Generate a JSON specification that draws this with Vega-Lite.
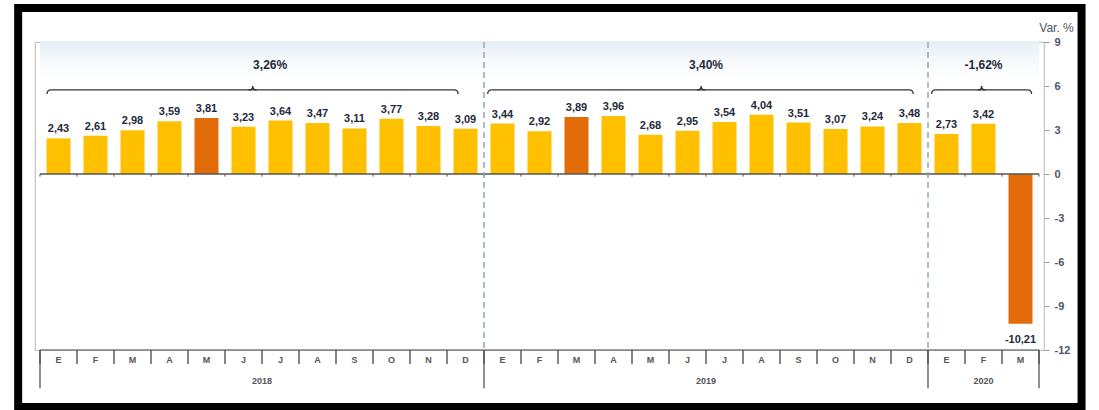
{
  "$schema": "https://vega.github.io/schema/vega-lite/v6.json",
  "width": 1009,
  "height": 308,
  "autosize": {"type": "none"},
  "padding": {"left": 35, "top": 42, "right": 55, "bottom": 60},
  "background": "#ffffff",
  "config": {
    "locale": {"number": {"decimal": ",", "thousands": ".", "grouping": [3], "currency": ["", " €"], "minus": "-"}},
    "view": {"stroke": "#c4c4c4", "strokeWidth": 1.2}
  },
  "resolve": {"axis": {"y": "independent", "x": "independent"}},
  "datasets": {
    "months": [
      {"i": 0, "m": "E", "yr": 2018, "v": 2.43, "h": "no"},
      {"i": 1, "m": "F", "yr": 2018, "v": 2.61, "h": "no"},
      {"i": 2, "m": "M", "yr": 2018, "v": 2.98, "h": "no"},
      {"i": 3, "m": "A", "yr": 2018, "v": 3.59, "h": "no"},
      {"i": 4, "m": "M", "yr": 2018, "v": 3.81, "h": "yes"},
      {"i": 5, "m": "J", "yr": 2018, "v": 3.23, "h": "no"},
      {"i": 6, "m": "J", "yr": 2018, "v": 3.64, "h": "no"},
      {"i": 7, "m": "A", "yr": 2018, "v": 3.47, "h": "no"},
      {"i": 8, "m": "S", "yr": 2018, "v": 3.11, "h": "no"},
      {"i": 9, "m": "O", "yr": 2018, "v": 3.77, "h": "no"},
      {"i": 10, "m": "N", "yr": 2018, "v": 3.28, "h": "no"},
      {"i": 11, "m": "D", "yr": 2018, "v": 3.09, "h": "no"},
      {"i": 12, "m": "E", "yr": 2019, "v": 3.44, "h": "no"},
      {"i": 13, "m": "F", "yr": 2019, "v": 2.92, "h": "no"},
      {"i": 14, "m": "M", "yr": 2019, "v": 3.89, "h": "yes"},
      {"i": 15, "m": "A", "yr": 2019, "v": 3.96, "h": "no"},
      {"i": 16, "m": "M", "yr": 2019, "v": 2.68, "h": "no"},
      {"i": 17, "m": "J", "yr": 2019, "v": 2.95, "h": "no"},
      {"i": 18, "m": "J", "yr": 2019, "v": 3.54, "h": "no"},
      {"i": 19, "m": "A", "yr": 2019, "v": 4.04, "h": "no"},
      {"i": 20, "m": "S", "yr": 2019, "v": 3.51, "h": "no"},
      {"i": 21, "m": "O", "yr": 2019, "v": 3.07, "h": "no"},
      {"i": 22, "m": "N", "yr": 2019, "v": 3.24, "h": "no"},
      {"i": 23, "m": "D", "yr": 2019, "v": 3.48, "h": "no"},
      {"i": 24, "m": "E", "yr": 2020, "v": 2.73, "h": "no"},
      {"i": 25, "m": "F", "yr": 2020, "v": 3.42, "h": "no"},
      {"i": 26, "m": "M", "yr": 2020, "v": -10.21, "h": "yes"}
    ],
    "bounds": [
      {"b": -0.5}, {"b": 0.5}, {"b": 1.5}, {"b": 2.5}, {"b": 3.5}, {"b": 4.5}, {"b": 5.5},
      {"b": 6.5}, {"b": 7.5}, {"b": 8.5}, {"b": 9.5}, {"b": 10.5}, {"b": 11.5}, {"b": 12.5},
      {"b": 13.5}, {"b": 14.5}, {"b": 15.5}, {"b": 16.5}, {"b": 17.5}, {"b": 18.5}, {"b": 19.5},
      {"b": 20.5}, {"b": 21.5}, {"b": 22.5}, {"b": 23.5}, {"b": 24.5}, {"b": 25.5}, {"b": 26.5}
    ],
    "yearBounds": [{"b": -0.5}, {"b": 11.5}, {"b": 23.5}, {"b": 26.5}],
    "dividers": [{"b": 11.5}, {"b": 23.5}],
    "years": [{"yr": "2018", "c": 5.5}, {"yr": "2019", "c": 17.5}, {"yr": "2020", "c": 25}],
    "groups": [
      {"yr": "2018", "start": -0.31, "end": 10.8, "mid": 5.25, "lx": 5.72, "avg": 0.0326},
      {"yr": "2019", "start": 11.6, "end": 23.1, "mid": 17.37, "lx": 17.5, "avg": 0.034},
      {"yr": "2020", "start": 23.6, "end": 26.3, "mid": 24.95, "lx": 25.0, "avg": -0.0162}
    ]
  },
  "layer": [
    {
      "data": {"name": "dividers"},
      "transform": [{"filter": "datum.b < 12"}],
      "mark": {"type": "rect", "color": {"gradient": "linear", "x1": 0, "y1": 0, "x2": 0, "y2": 1,
        "stops": [{"offset": 0, "color": "#e6eff6"}, {"offset": 0.5, "color": "#f5f9fb"}, {"offset": 1, "color": "#ffffff"}]}},
      "encoding": {
        "x": {"datum": -0.5, "type": "quantitative", "axis": null},
        "x2": {"datum": 26.5},
        "y": {"datum": 9, "type": "quantitative", "axis": null},
        "y2": {"datum": 6.5}
      }
    },
    {
      "data": {"name": "months"},
      "mark": {"type": "bar", "size": 24},
      "encoding": {
        "x": {"field": "i", "type": "quantitative", "axis": null, "scale": {"domain": [-0.5, 26.5], "nice": false, "zero": false}},
        "y": {"field": "v", "type": "quantitative", "title": "Var. %",
          "scale": {"domain": [-12, 9], "nice": false},
          "axis": {"orient": "right", "values": [-12, -9, -6, -3, 0, 3, 6, 9], "grid": false, "domain": false,
            "tickSize": 5, "tickColor": "#9a9a9a", "labelPadding": 5, "labelColor": "#4d5566",
            "labelFont": "Liberation Sans", "labelFontSize": 11, "labelFontWeight": "bold",
            "titleAngle": 0, "titleX": 12, "titleY": -15, "titleAlign": "center", "titleBaseline": "middle",
            "titleFont": "Liberation Sans", "titleFontSize": 12, "titleFontWeight": "normal", "titleColor": "#4d5566"}},
        "color": {"field": "h", "type": "nominal", "legend": null,
          "scale": {"domain": ["no", "yes"], "range": ["#FFC000", "#E36C0A"]}}
      }
    },
    {
      "data": {"name": "dividers"},
      "transform": [{"filter": "datum.b < 12"}],
      "mark": {"type": "rule", "color": "#555555", "strokeWidth": 1.3},
      "encoding": {
        "x": {"datum": -0.5, "type": "quantitative", "axis": null},
        "x2": {"datum": 26.5},
        "y": {"datum": 0, "type": "quantitative", "axis": null}
      }
    },
    {
      "data": {"name": "bounds"},
      "mark": {"type": "rule", "color": "#555555", "strokeWidth": 1},
      "encoding": {
        "x": {"field": "b", "type": "quantitative", "axis": null},
        "y": {"datum": 0, "type": "quantitative", "axis": null},
        "y2": {"datum": -0.18}
      }
    },
    {
      "data": {"name": "dividers"},
      "mark": {"type": "rule", "color": "#8eaab4", "strokeWidth": 1.5, "strokeDash": [6, 4]},
      "encoding": {
        "x": {"field": "b", "type": "quantitative", "axis": null},
        "y": {"datum": 9, "type": "quantitative", "axis": null},
        "y2": {"datum": -12}
      }
    },
    {
      "data": {"name": "bounds"},
      "mark": {"type": "rule", "color": "#444444", "strokeWidth": 1.3, "clip": false},
      "encoding": {
        "x": {"field": "b", "type": "quantitative", "axis": null},
        "y": {"datum": -12, "type": "quantitative", "axis": null},
        "y2": {"datum": -12.95}
      }
    },
    {
      "data": {"name": "yearBounds"},
      "mark": {"type": "rule", "color": "#555555", "strokeWidth": 1.3, "clip": false},
      "encoding": {
        "x": {"field": "b", "type": "quantitative", "axis": null},
        "y": {"datum": -12, "type": "quantitative", "axis": null},
        "y2": {"datum": -14.6}
      }
    },
    {
      "data": {"name": "dividers"},
      "transform": [{"filter": "datum.b < 12"}],
      "mark": {"type": "rule", "color": "#555555", "strokeWidth": 1},
      "encoding": {
        "x": {"datum": -0.5, "type": "quantitative", "axis": null},
        "x2": {"datum": 26.5},
        "y": {"datum": -12, "type": "quantitative", "axis": null}
      }
    },
    {
      "data": {"name": "months"},
      "mark": {"type": "text", "font": "Liberation Sans", "fontSize": 9, "fontWeight": "bold", "color": "#555555", "baseline": "middle", "clip": false},
      "encoding": {
        "x": {"field": "i", "type": "quantitative", "axis": null},
        "y": {"datum": -12.68, "type": "quantitative", "axis": null},
        "text": {"field": "m", "type": "nominal"}
      }
    },
    {
      "data": {"name": "years"},
      "mark": {"type": "text", "font": "Liberation Sans", "fontSize": 9, "fontWeight": "bold", "color": "#555555", "baseline": "middle", "clip": false},
      "encoding": {
        "x": {"field": "c", "type": "quantitative", "axis": null},
        "y": {"datum": -14.11, "type": "quantitative", "axis": null},
        "text": {"field": "yr", "type": "nominal"}
      }
    },
    {
      "data": {"name": "months"},
      "transform": [{"filter": "datum.v >= 0"}],
      "mark": {"type": "text", "font": "Liberation Sans Narrow, Liberation Sans", "fontSize": 11, "fontWeight": "bold", "color": "#1f2a3a", "baseline": "bottom", "dy": -4},
      "encoding": {
        "x": {"field": "i", "type": "quantitative", "axis": null},
        "y": {"field": "v", "type": "quantitative", "axis": null},
        "text": {"field": "v", "type": "quantitative", "format": ".2f"}
      }
    },
    {
      "data": {"name": "months"},
      "transform": [{"filter": "datum.v < 0"}],
      "mark": {"type": "text", "font": "Liberation Sans Narrow, Liberation Sans", "fontSize": 11, "fontWeight": "bold", "color": "#1f2a3a", "baseline": "top", "dy": 10},
      "encoding": {
        "x": {"field": "i", "type": "quantitative", "axis": null},
        "y": {"field": "v", "type": "quantitative", "axis": null},
        "text": {"field": "v", "type": "quantitative", "format": ".2f"}
      }
    },
    {
      "data": {"name": "groups"},
      "mark": {"type": "rule", "color": "#333333", "strokeWidth": 1.3, "xOffset": 4, "x2Offset": -4},
      "encoding": {
        "x": {"field": "start", "type": "quantitative", "axis": null},
        "x2": {"field": "end"},
        "y": {"datum": 5.73, "type": "quantitative", "axis": null}
      }
    },
    {
      "data": {"name": "groups"},
      "mark": {"type": "point", "shape": "M 1 0 Q 0 0 0 1", "size": 64, "filled": false, "stroke": "#333333", "strokeWidth": 1.3, "opacity": 1},
      "encoding": {
        "x": {"field": "start", "type": "quantitative", "axis": null},
        "y": {"datum": 5.73, "type": "quantitative", "axis": null}
      }
    },
    {
      "data": {"name": "groups"},
      "mark": {"type": "point", "shape": "M -1 0 Q 0 0 0 1", "size": 64, "filled": false, "stroke": "#333333", "strokeWidth": 1.3, "opacity": 1},
      "encoding": {
        "x": {"field": "end", "type": "quantitative", "axis": null},
        "y": {"datum": 5.73, "type": "quantitative", "axis": null}
      }
    },
    {
      "data": {"name": "groups"},
      "mark": {"type": "point", "shape": "M -1 0 Q 0 0 0 -1 Q 0 0 1 0", "size": 64, "filled": false, "stroke": "#333333", "strokeWidth": 1.3, "opacity": 1},
      "encoding": {
        "x": {"field": "mid", "type": "quantitative", "axis": null},
        "y": {"datum": 5.73, "type": "quantitative", "axis": null}
      }
    },
    {
      "data": {"name": "groups"},
      "mark": {"type": "text", "font": "Liberation Sans", "fontSize": 12, "fontWeight": "bold", "color": "#1f2a3a", "baseline": "middle"},
      "encoding": {
        "x": {"field": "lx", "type": "quantitative", "axis": null},
        "y": {"datum": 7.43, "type": "quantitative", "axis": null},
        "text": {"field": "avg", "type": "quantitative", "format": ".2%"}
      }
    },
    {
      "data": {"name": "dividers"},
      "transform": [{"filter": "datum.b < 12"}],
      "mark": {"type": "rect", "filled": false, "stroke": "#000000", "strokeWidth": 8, "clip": false},
      "encoding": {
        "x": {"datum": -1.09, "type": "quantitative", "axis": null},
        "x2": {"datum": 27.65},
        "y": {"datum": 11.32, "type": "quantitative", "axis": null},
        "y2": {"datum": -15.89}
      }
    }
  ]
}
